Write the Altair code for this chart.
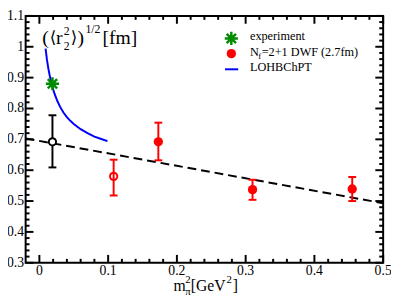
import altair as alt
import pandas as pd

FONT = "Liberation Serif"
W, H = 365, 252

# ---- axis ticks and tick labels ----
x_major = [0, 0.1, 0.2, 0.3, 0.4, 0.5]
x_labels = ["0", "0.1", "0.2", "0.3", "0.4", "0.5"]
x_minor = [0.02, 0.04, 0.06, 0.08, 0.12, 0.14, 0.16, 0.18, 0.22, 0.24, 0.26, 0.28,
           0.32, 0.34, 0.36, 0.38, 0.42, 0.44, 0.46, 0.48]
y_major = [0.3, 0.4, 0.5, 0.6, 0.7, 0.8, 0.9, 1.0, 1.1]
y_labels = ["0.3", "0.4", "0.5", "0.6", "0.7", "0.8", "0.9", "1", "1.1"]
y_minor = [0.32, 0.34, 0.36, 0.38, 0.42, 0.44, 0.46, 0.48, 0.52, 0.54, 0.56, 0.58,
           0.62, 0.64, 0.66, 0.68, 0.72, 0.74, 0.76, 0.78, 0.82, 0.84, 0.86, 0.88,
           0.92, 0.94, 0.96, 0.98, 1.02, 1.04, 1.06, 1.08]

# ---- data ----
exp_x = [0.019]
exp_y = [0.88]

chi_x = [0.019]
chi_y = [0.692]
chi_lo = [0.609]
chi_hi = [0.778]

open_x = [0.108]
open_y = [0.580]
open_lo = [0.518]
open_hi = [0.634]

dwf_x = [0.173, 0.310, 0.455]
dwf_y = [0.692, 0.537, 0.539]
dwf_lo = [0.632, 0.504, 0.500]
dwf_hi = [0.754, 0.569, 0.578]

fit_x = [-0.02, 0.5]
fit_y = [0.703, 0.493]

chpt_x = [0.009, 0.011, 0.013, 0.015, 0.018, 0.022, 0.026, 0.030, 0.035, 0.040,
          0.045, 0.050, 0.060, 0.070, 0.080, 0.090, 0.099]
chpt_y = [0.994, 0.958, 0.930, 0.907, 0.878, 0.848, 0.825, 0.806, 0.787, 0.772,
          0.760, 0.750, 0.733, 0.720, 0.709, 0.701, 0.694]

legend_labels = ["experiment", "LOHBChPT"]

X0, X1 = -0.02, 0.5
Y0, Y1 = 0.3, 1.1
XS = alt.Scale(domain=[X0, X1], nice=False, zero=False)
YS = alt.Scale(domain=[Y0, Y1], nice=False, zero=False)
XPX = (X1 - X0) / W   # data units per pixel (inward tick placement)
YPX = (Y1 - Y0) / H

STAR = "M0,-1L0,1M-1,0L1,0M-0.71,-0.71L0.71,0.71M-0.71,0.71L0.71,-0.71"
GREEN = "#008b00"
RED = "#ff0000"
ONE = pd.DataFrame({"k": [0]})


def X(f):
    return alt.X(f, scale=XS, axis=None)


def Y(f):
    return alt.Y(f, scale=YS, axis=None)


def xticks(vals, length):
    rows = ([{"x": v, "y": Y0 + length / 2 * YPX} for v in vals]
            + [{"x": v, "y": Y1 - length / 2 * YPX} for v in vals])
    return alt.Chart(pd.DataFrame(rows)).mark_tick(
        color="#000000", orient="vertical", size=length, thickness=2, opacity=1
    ).encode(x=X("x:Q"), y=Y("y:Q"))


def yticks(vals, length):
    rows = ([{"x": X0 + length / 2 * XPX, "y": v} for v in vals]
            + [{"x": X1 - length / 2 * XPX, "y": v} for v in vals])
    return alt.Chart(pd.DataFrame(rows)).mark_tick(
        color="#000000", orient="horizontal", size=length, thickness=2, opacity=1
    ).encode(x=X("x:Q"), y=Y("y:Q"))


xlab = alt.Chart(pd.DataFrame({"v": x_major, "t": x_labels})).mark_text(
    align="center", baseline="alphabetic", font=FONT, fontSize=14, color="black").encode(
    x=X("v:Q"), y=alt.value(H + 13), text="t:N")
ylab = alt.Chart(pd.DataFrame({"v": y_major, "t": y_labels})).mark_text(
    align="right", baseline="middle", font=FONT, fontSize=14, color="black").encode(
    y=Y("v:Q"), x=alt.value(-1.5), text="t:N")

fit = alt.Chart(pd.DataFrame({"x": fit_x, "y": fit_y})).mark_line(
    color="black", strokeWidth=2, strokeDash=[9, 5]).encode(x=X("x:Q"), y=Y("y:Q"))

chpt = alt.Chart(pd.DataFrame({"x": chpt_x, "y": chpt_y})).mark_line(
    color="#0000ff", strokeWidth=2).encode(x=X("x:Q"), y=Y("y:Q"))


def errbars(xs, lo, hi, color):
    df = pd.DataFrame({"x": xs, "lo": lo, "hi": hi})
    base = alt.Chart(df)
    r = base.mark_rule(color=color, strokeWidth=2).encode(
        x=X("x:Q"), y=Y("lo:Q"), y2="hi:Q")
    t1 = base.mark_tick(color=color, orient="horizontal", size=8, thickness=2,
                        opacity=1).encode(x=X("x:Q"), y=Y("lo:Q"))
    t2 = base.mark_tick(color=color, orient="horizontal", size=8, thickness=2,
                        opacity=1).encode(x=X("x:Q"), y=Y("hi:Q"))
    return [r, t1, t2]


def pts(xs, ys):
    return alt.Chart(pd.DataFrame({"x": xs, "y": ys})), dict(x=X("x:Q"), y=Y("y:Q"))


c, e = pts(chi_x, chi_y)
chi_pt = c.mark_point(shape="circle", filled=False, fill="white", fillOpacity=1,
                      color="black", strokeWidth=2, size=55, opacity=1).encode(**e)
c, e = pts(open_x, open_y)
open_pt = c.mark_point(shape="circle", filled=False, color=RED, strokeWidth=2,
                       size=55, opacity=1).encode(**e)
c, e = pts(dwf_x, dwf_y)
dwf_pt = c.mark_point(shape="circle", filled=True, color=RED, size=90,
                      opacity=1).encode(**e)
c, e = pts(exp_x, exp_y)
exp_pt = c.mark_point(shape=STAR, filled=False, color=GREEN, strokeWidth=2.5,
                      size=180, opacity=1).encode(**e)

# ---- legend (manual, pixel positioned) ----
leg_star = alt.Chart(ONE).mark_point(
    shape=STAR, filled=False, color=GREEN, strokeWidth=2.5, size=180, opacity=1).encode(
    x=alt.value(210), y=alt.value(23))
leg_dot = alt.Chart(ONE).mark_point(
    shape="circle", filled=True, color=RED, size=90, opacity=1).encode(
    x=alt.value(210), y=alt.value(38.5))
leg_line = alt.Chart(ONE).mark_rule(color="#0000ff", strokeWidth=2).encode(
    x=alt.value(203.5), x2=alt.value(217), y=alt.value(54.5))

# ---- text pieces (titles with sub/superscripts, legend labels) ----
texts = [
    # y title inside plot
    ("(", 17, 28.7, 20, FONT), ("⟨", 24.5, 27.7, 17, "DejaVu Sans"),
    ("r", 31, 28.7, 20, FONT),
    ("2", 39, 19.3, 12, FONT), ("2", 39, 35, 12, FONT),
    ("⟩", 46, 27.7, 17, "DejaVu Sans"), (")", 53, 28.7, 20, FONT),
    ("1/2", 61, 17, 12, FONT), ("[fm]", 78.5, 28.7, 20, FONT),
    # x title
    ("m", 151, 281, 16, FONT), ("π", 163, 285, 11, FONT), ("2", 163, 272.5, 11, FONT),
    ("[GeV", 168.5, 281, 16, FONT), ("2", 205, 272.5, 11, FONT),
    ("]", 211.5, 281, 16, FONT),
    # legend labels
    (legend_labels[0], 229, 25, 12.5, FONT),
    ("N", 229, 40.5, 12.5, FONT), ("f", 237.5, 43.5, 9, FONT),
    ("=2+1 DWF (2.7fm)", 241, 40.5, 12.5, FONT),
    (legend_labels[1], 229, 56, 12.5, FONT),
]
text_layers = []
for s, px, py, fs, fnt in texts:
    text_layers.append(
        alt.Chart(pd.DataFrame({"t": [s]})).mark_text(
            align="left", baseline="alphabetic", font=fnt, fontSize=fs,
            color="black").encode(x=alt.value(px), y=alt.value(py), text="t:N"))

layers = ([fit,
           xticks(x_major, 8), xticks(x_minor, 4),
           yticks(y_major, 8), yticks(y_minor, 4),
           xlab, ylab, chpt]
          + errbars(chi_x, chi_lo, chi_hi, "black")
          + errbars(open_x, open_lo, open_hi, RED)
          + errbars(dwf_x, dwf_lo, dwf_hi, RED)
          + [chi_pt, open_pt, dwf_pt, exp_pt, leg_star, leg_dot, leg_line]
          + text_layers)

chart = alt.layer(*layers).properties(
    width=W, height=H,
    autosize=alt.AutoSizeParams(type="none"),
    padding={"left": 18, "top": 5, "right": 8, "bottom": 38},
).configure_view(stroke="black", strokeWidth=2)

chart.save("out.html", embed_options={"renderer": "svg", "actions": False})
